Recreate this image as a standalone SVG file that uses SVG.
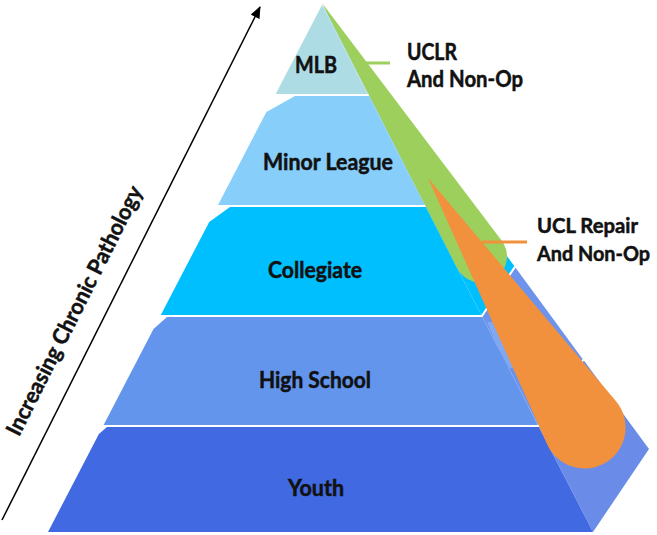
<svg xmlns="http://www.w3.org/2000/svg" width="657" height="535" viewBox="0 0 657 535">
  <defs>
    <style>
      .lbl { font-family: Lato, "Open Sans", "Liberation Sans", sans-serif; font-weight: bold; font-size: 22px; fill: #111111; stroke: #111111; stroke-width: 0.5px; }
      .edge { font-size: 20.5px; }
      .mid { text-anchor: middle; }
      .lead { stroke-width: 3; fill: none; }
    </style>
    <marker id="arrowHead" viewBox="0 0 12 10" refX="11" refY="5" markerWidth="12" markerHeight="10" markerUnits="userSpaceOnUse" orient="auto">
      <path d="M0,0 L12,5 L0,10 Z" fill="#000000"/>
    </marker>
  </defs>
  <rect x="0" y="0" width="657" height="535" fill="#ffffff"/>

  <!-- pyramid tiers -->
  <g id="tier-youth">
    <polygon points="539,427 583.9,360.6 649,449 593,532" fill="#6A8BE7"/>
    <polygon points="107,427 538.9,427 593,532 48,532 98.9,434" fill="#4169E1"/>
    <text class="lbl mid" x="316" y="496" textLength="56" lengthAdjust="spacingAndGlyphs">Youth</text>
  </g>
  <g id="tier-high-school">
    <polygon points="482.4,317 515.6,267.8 582.6,358.9 538,425" fill="#6D93EC"/>
    <polygon points="487,322 494,322 514,368 507,368" fill="#82A8F2"/>
    <polygon points="167,317 482.4,317 537.9,425 103.6,425 153.5,329" fill="#6495ED"/>
    <text class="lbl mid" x="315" y="388" textLength="112" lengthAdjust="spacingAndGlyphs">High School</text>
  </g>
  <g id="tier-collegiate">
    <polygon points="425.8,207 447.2,175 514.3,266 481.3,315" fill="#00BFFF"/>
    <polygon points="230,207 425.8,207 481.3,315 160.8,315 209.2,222" fill="#00BFFF"/>
    <text class="lbl mid" x="315" y="278" textLength="94" lengthAdjust="spacingAndGlyphs">Collegiate</text>
  </g>
  <g id="tier-minor-league">
    <polygon points="368.9,96 378.6,81.8 446.1,173.5 424.8,205" fill="#87CEFA"/>
    <polygon points="295,96 368.8,96 424.8,205 218,205 266.4,112" fill="#87CEFA"/>
    <text class="lbl mid" x="328" y="170" textLength="130" lengthAdjust="spacingAndGlyphs">Minor League</text>
  </g>
  <g id="tier-mlb">
    <polygon points="322,5 377,80 367.8,94" fill="#ADDCE4"/>
    <polygon points="322,5 367.7,94 275.7,94" fill="#ADDCE4"/>
    <text class="lbl mid" x="316" y="73" textLength="42" lengthAdjust="spacingAndGlyphs">MLB</text>
  </g>

  <!-- overlays -->
  <g id="uclr-wedge">
    <path d="M322,3 L501,239.7 A26.3,26.3 0 1 1 456.8,267.4 Z" fill="#9CCF5C"/>
  </g>
  <g id="ucl-repair-wedge">
    <path d="M428,178 L615.4,400.5 A41,41 0 1 1 546.8,443.5 Z" fill="#F2913D"/>
  </g>

  <!-- connectors -->
  <g id="connectors">
    <line class="lead" x1="365" y1="63" x2="390" y2="63" stroke="#9CCF5C"/>
    <line class="lead" x1="482" y1="242" x2="527" y2="242" stroke="#F2913D"/>
    <line x1="2" y1="520" x2="260" y2="7" stroke="#000000" stroke-width="1.5" marker-end="url(#arrowHead)"/>
  </g>

  <!-- labels -->
  <g id="label-uclr">
    <text class="lbl" x="407" y="60" textLength="50" lengthAdjust="spacingAndGlyphs">UCLR</text>
    <text class="lbl" x="407" y="87" textLength="116" lengthAdjust="spacingAndGlyphs">And Non-Op</text>
  </g>
  <g id="label-ucl-repair">
    <text class="lbl edge" x="537" y="233" textLength="101" lengthAdjust="spacingAndGlyphs">UCL Repair</text>
    <text class="lbl edge" x="537" y="261" textLength="113" lengthAdjust="spacingAndGlyphs">And Non-Op</text>
  </g>
  <g id="label-axis">
    <text class="lbl mid" x="81" y="314" transform="rotate(-63.3 81 314)" textLength="276" lengthAdjust="spacingAndGlyphs">Increasing Chronic Pathology</text>
  </g>
</svg>
